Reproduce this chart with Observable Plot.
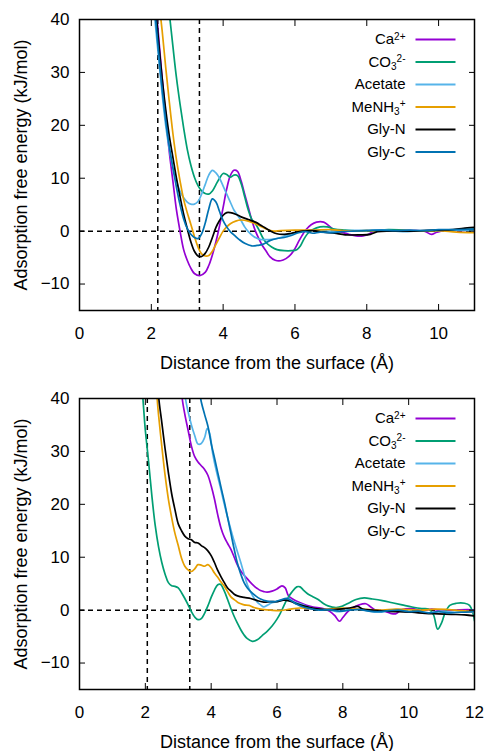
<!DOCTYPE html>
<html><head><meta charset="utf-8">
<script src="https://cdn.jsdelivr.net/npm/d3@7"></script>
<script src="https://cdn.jsdelivr.net/npm/@observablehq/plot@0.6"></script>
<style>body{margin:0;background:#fff;} #chart svg{display:block;}</style>
</head><body><div id="chart"></div>
<script>
const seriesNames = ["Ca²⁺", "CO₃²⁻", "Acetate", "MeNH₃⁺", "Gly-N", "Gly-C"];
const seriesColors = ["#9400d3", "#009e73", "#56b4e9", "#e69f00", "#000000", "#0072b2"];
const xTicksTop = [0, 2, 4, 6, 8, 10];
const xTicksBottom = [0, 2, 4, 6, 8, 10, 12];
const yTicks = [-10, 0, 10, 20, 30, 40];
const dashXTop = [2.18, 3.34];
const dashXBottom = [2.06, 3.35];
const xLabel = "Distance from the surface (Å)";
const yLabel = "Adsorption free energy (kJ/mol)";

// ---- top panel ----
const topCa = [[2.1,44],[2.2,37],[2.3,29],[2.4,22],[2.5,15],[2.6,9.5],[2.7,4],[2.8,0],[2.9,-3.5],[3.0,-5.5],[3.1,-7],[3.2,-8],[3.35,-8.4],[3.5,-7.8],[3.6,-6.5],[3.7,-4.5],[3.8,-2],[3.9,1],[4.0,4.5],[4.1,8],[4.2,10.5],[4.3,11.5],[4.4,11.3],[4.5,9.5],[4.6,7],[4.7,4.5],[4.8,2],[4.9,0],[5.0,-1.5],[5.1,-2.8],[5.2,-3.8],[5.3,-4.8],[5.45,-5.5],[5.6,-5.6],[5.75,-5.2],[5.9,-4.3],[6.0,-3.3],[6.1,-2],[6.2,-0.8],[6.3,0.2],[6.45,1.2],[6.6,1.7],[6.8,1.7],[6.95,1],[7.1,0.2],[7.3,-0.2],[7.5,-0.6],[7.7,-0.9],[7.9,-0.9],[8.05,-0.6],[8.2,0],[8.5,0.2],[8.8,0.1],[9.2,0.1],[9.6,0],[9.8,-0.6],[9.95,-0.2],[10.2,0.2],[10.6,0.1],[11,0.3]];
const topCO3 = [[2.45,44],[2.52,40],[2.6,35],[2.7,29],[2.8,24],[2.9,19.5],[3.0,15.5],[3.1,12.5],[3.2,10.2],[3.3,8.6],[3.4,7.6],[3.5,7.1],[3.6,7.0],[3.7,7.6],[3.8,8.8],[3.9,10],[4.0,10.9],[4.1,10.7],[4.2,10.2],[4.3,10.6],[4.4,10.5],[4.5,9],[4.6,6.5],[4.7,4],[4.8,2.2],[4.9,1.4],[5.0,0.2],[5.1,-1.2],[5.2,-2.2],[5.35,-3],[5.5,-3.5],[5.7,-3.7],[5.9,-3.7],[6.05,-3.5],[6.15,-2.8],[6.25,-1.5],[6.35,-0.5],[6.5,0.3],[6.7,0.8],[6.9,0.8],[7.1,0.4],[7.4,0.2],[7.8,0],[8.2,0.1],[8.6,0.3],[9.0,0.2],[9.5,0],[10,0.1],[10.5,0.2],[11,0.4]];
const topAcetate = [[2.05,44],[2.1,40],[2.2,33],[2.3,26],[2.4,20],[2.5,15.5],[2.6,12],[2.7,9.5],[2.8,7.5],[2.9,6.3],[3.0,5.5],[3.1,5.1],[3.2,5.1],[3.3,5.6],[3.4,7],[3.5,8.8],[3.6,10.6],[3.7,11.5],[3.8,11],[3.9,10],[4.0,8.5],[4.1,7],[4.2,5.5],[4.3,4],[4.4,3],[4.5,2],[4.6,0.8],[4.7,-0.1],[4.85,-1],[5.0,-1.5],[5.2,-1.6],[5.4,-1.5],[5.6,-1.2],[5.8,-0.7],[6.0,-0.3],[6.3,0.1],[6.6,0.2],[7.0,0],[7.5,0.1],[8,0.2],[8.5,0.2],[9,-0.1],[9.5,0.1],[10,0.2],[10.5,0.2],[11,0.1]];
const topMeNH3 = [[2.2,44],[2.3,38],[2.4,31],[2.5,24.5],[2.6,18.5],[2.7,13.5],[2.8,9.5],[2.9,6],[3.0,3.5],[3.1,1.3],[3.2,-1],[3.3,-3],[3.4,-4.3],[3.5,-4.7],[3.6,-4.6],[3.7,-3.8],[3.8,-2.5],[3.9,-1.2],[4.0,0],[4.1,0.8],[4.2,1.4],[4.35,1.9],[4.5,2.1],[4.7,1.9],[4.9,1.4],[5.05,0.9],[5.2,0.4],[5.4,0],[5.6,0.1],[6.0,0.2],[6.5,0.2],[7.0,0.3],[7.5,0],[8,0.1],[8.5,0],[9,0.1],[9.5,0],[10,0.1],[10.5,-0.2],[11,-0.3]];
const topGlyN = [[2.1,43],[2.15,40],[2.2,36],[2.3,29],[2.4,23],[2.5,18],[2.6,14],[2.7,10],[2.8,6.5],[2.9,3.2],[3.0,0.5],[3.1,-2],[3.2,-3.8],[3.3,-4.7],[3.4,-4.8],[3.5,-4.2],[3.6,-3],[3.7,-1.2],[3.8,0.7],[3.9,2],[4.0,3],[4.1,3.5],[4.2,3.5],[4.35,3.2],[4.5,2.7],[4.7,2.2],[4.9,1.7],[5.1,0.9],[5.3,0.1],[5.5,-0.5],[5.7,-0.6],[5.9,-0.4],[6.2,0],[6.5,0.1],[6.8,-0.2],[7.1,-0.4],[7.4,-0.7],[7.8,-0.7],[8.1,-0.6],[8.3,-0.1],[8.7,0],[9.2,0],[9.6,0.1],[10,0.2],[10.4,0.3],[10.8,0.6],[11,0.7]];
const topGlyC = [[2.08,43],[2.12,40],[2.2,34],[2.3,27],[2.4,21],[2.5,16],[2.6,12],[2.7,8.3],[2.8,5],[2.9,2.3],[3.0,0.5],[3.1,-0.6],[3.2,-1.2],[3.3,-1.4],[3.4,-0.5],[3.5,1.5],[3.6,4.2],[3.7,6.1],[3.8,5.5],[3.9,3.7],[4.0,2],[4.1,0.8],[4.2,-0.1],[4.3,-0.7],[4.45,-1.6],[4.6,-2.3],[4.8,-2.8],[4.95,-2.7],[5.1,-2.5],[5.3,-1.8],[5.5,-1.4],[5.7,-1.2],[5.9,-0.8],[6.1,-0.3],[6.3,-0.1],[6.5,-0.4],[6.7,-0.2],[7.0,-0.3],[7.3,-0.1],[7.6,0],[8,0.1],[8.4,0.2],[8.8,0.1],[9.2,0.2],[9.6,0.1],[10,0.3],[10.5,0.3],[11,0.4]];

// ---- bottom panel ----
const botCa = [[3.07,44],[3.12,40],[3.2,37],[3.3,34],[3.4,31],[3.5,29],[3.6,28],[3.7,27.3],[3.8,26.6],[3.9,25.5],[4.0,23.5],[4.1,21],[4.2,18],[4.3,15.5],[4.4,13.8],[4.5,12.6],[4.6,11.5],[4.7,10],[4.8,8.5],[4.9,7.4],[5.0,6.6],[5.1,5.9],[5.2,5.2],[5.3,4.6],[5.4,4.1],[5.5,3.7],[5.6,3.5],[5.7,3.4],[5.85,3.6],[6.0,4],[6.15,4.6],[6.25,4.2],[6.35,2.7],[6.5,2],[6.7,1.4],[6.9,0.9],[7.1,0.6],[7.4,0.3],[7.6,-0.2],[7.75,-1],[7.9,-2.1],[8.0,-1.4],[8.15,-0.3],[8.3,0.4],[8.5,1],[8.7,1.2],[8.85,0.6],[9.0,0],[9.2,-0.1],[9.45,-0.6],[9.6,-0.7],[9.8,0.1],[10.1,0.3],[10.4,-0.1],[10.7,0.2],[11.0,-0.1],[11.4,0],[11.8,0.1],[12,0]];
const botCO3 = [[1.88,44],[1.95,38],[2.0,34],[2.1,28],[2.2,21.5],[2.3,16],[2.4,12],[2.5,9],[2.6,6.8],[2.7,5.2],[2.8,4.6],[2.9,4.5],[3.0,4.2],[3.1,3.3],[3.2,2.2],[3.3,1],[3.4,-0.3],[3.5,-1.3],[3.6,-1.8],[3.7,-1.6],[3.8,-0.6],[3.9,0.8],[4.0,2.4],[4.1,3.8],[4.2,4.8],[4.28,4.9],[4.4,3.6],[4.5,2],[4.6,0.3],[4.7,-1.2],[4.8,-2.5],[4.9,-3.7],[5.0,-4.7],[5.1,-5.4],[5.25,-5.9],[5.4,-5.6],[5.55,-4.8],[5.7,-4],[5.85,-3],[6.0,-1.7],[6.1,-0.6],[6.2,0.7],[6.3,2],[6.45,3.4],[6.6,4.4],[6.7,4.4],[6.8,3.8],[6.95,3],[7.1,2.5],[7.25,2],[7.4,1.3],[7.55,0.8],[7.8,0.5],[8.0,0.8],[8.2,1.4],[8.4,2],[8.65,2.3],[8.9,2.1],[9.2,1.8],[9.5,1.4],[9.8,1],[10.1,0.6],[10.4,0.3],[10.6,0.2],[10.75,-0.8],[10.88,-3.6],[11.0,-2.4],[11.1,-0.6],[11.25,0.9],[11.45,1.3],[11.7,1.3],[11.85,0.9],[11.95,-0.5],[12,-2]];
const botAcetate = [[3.18,44],[3.22,40],[3.3,37.5],[3.4,35],[3.5,33],[3.6,31.4],[3.7,31.5],[3.8,32.6],[3.88,34.3],[3.95,33.5],[4.05,29.5],[4.15,26.5],[4.3,22.7],[4.4,20],[4.5,17.5],[4.6,15.2],[4.7,13],[4.8,11],[4.9,9],[5.0,6.8],[5.1,4.8],[5.2,3.4],[5.3,2.3],[5.4,1.5],[5.5,1.0],[5.6,0.6],[5.7,0.9],[5.85,1.4],[6.0,1.6],[6.2,2],[6.35,2.2],[6.5,1.6],[6.7,1.2],[6.9,0.7],[7.1,0.3],[7.3,0.2],[7.6,0],[7.9,-0.3],[8.2,0.1],[8.5,0.2],[8.8,-0.2],[9.1,-0.4],[9.4,-0.1],[9.7,0.1],[10.0,-0.2],[10.3,-0.3],[10.6,-0.5],[11.0,-0.2],[11.4,-0.4],[11.8,-0.3],[12,-0.5]];
const botMeNH3 = [[2.33,44],[2.36,40],[2.4,37],[2.5,31],[2.6,25.5],[2.7,21],[2.8,17.5],[2.9,14.5],[3.0,12.2],[3.1,9.8],[3.2,8.3],[3.3,7.6],[3.4,7.3],[3.5,7.8],[3.6,8.6],[3.7,8.5],[3.8,8.3],[3.9,8.6],[4.0,8],[4.1,7],[4.2,6.2],[4.3,5.3],[4.4,4.5],[4.5,3.5],[4.6,2.5],[4.7,2],[4.8,1.5],[4.9,1.2],[5.0,1],[5.15,0.9],[5.3,0.5],[5.5,0.2],[5.8,0],[6.1,-0.1],[6.4,0.2],[6.7,0.4],[7.0,0.3],[7.3,0.1],[7.6,0.2],[8.0,0.4],[8.4,0.2],[8.8,0.1],[9.2,0],[9.6,0.2],[10,0.1],[10.4,0],[10.8,0.2],[11.2,0.1],[11.6,-0.1],[12,-0.3]];
const botGlyN = [[2.38,44],[2.41,40],[2.5,35.5],[2.6,30.5],[2.7,26],[2.8,22],[2.9,19],[3.0,16.3],[3.1,15],[3.2,14],[3.3,13.5],[3.4,13.3],[3.5,12.8],[3.6,12.7],[3.7,12.2],[3.8,11.8],[3.9,11.2],[4.0,10.3],[4.1,9],[4.2,7.5],[4.3,6.3],[4.4,5.2],[4.5,4.2],[4.6,3.6],[4.7,3],[4.8,2.7],[5.0,2.4],[5.2,2.2],[5.4,1.8],[5.6,1.5],[5.8,1.6],[6.0,1.6],[6.2,1.9],[6.4,1.7],[6.6,1.2],[6.8,0.8],[7.0,0.5],[7.3,0.2],[7.6,0.1],[7.9,0.2],[8.2,0.4],[8.45,0.7],[8.6,0.2],[8.9,0],[9.3,-0.2],[9.7,-0.3],[10.1,-0.4],[10.5,-0.6],[10.9,-0.7],[11.3,-0.8],[11.7,-0.9],[12,-1.1]];
const botGlyC = [[3.63,44],[3.68,40],[3.8,37],[3.9,34.8],[4.0,31.5],[4.1,28.8],[4.2,26],[4.3,23.2],[4.4,20.5],[4.5,17.5],[4.6,14.5],[4.7,11.5],[4.8,8.8],[4.9,6.8],[5.0,5.2],[5.1,4.2],[5.2,3.5],[5.35,2.7],[5.5,2.1],[5.7,1.7],[5.9,1.6],[6.1,1.9],[6.3,2.2],[6.45,1.7],[6.6,1.1],[6.8,0.6],[7.0,0.3],[7.3,0],[7.6,0.1],[7.9,-0.2],[8.2,0],[8.5,0.1],[8.8,-0.2],[9.1,-0.3],[9.4,-0.1],[9.7,0],[10,-0.3],[10.3,-0.2],[10.6,-0.5],[10.9,-0.3],[11.2,-0.5],[11.6,-0.4],[12,-0.3]];

// legend label pieces: [base, subscript, superscript]
const legendPieces = {
  "Ca²⁺": ["Ca", "", "2+"],
  "CO₃²⁻": ["CO", "3", "2-"],
  "MeNH₃⁺": ["MeNH", "3", "+"]
};

const lineSymbol = {draw(context, size) { const r = Math.sqrt(size / Math.PI); context.moveTo(-r, 0); context.lineTo(r, 0); }};

function panel(seriesData, xMax, xTicks, dashX, height, marginBottom) {
  const rows = seriesData.flatMap((pts, i) => pts.map(([x, y]) => ({series: seriesNames[i], x, y})));
  const marks = [
    Plot.ruleY([0], {stroke: "black", strokeDasharray: "5,4", strokeWidth: 1.5}),
    Plot.ruleX(dashX, {stroke: "black", strokeDasharray: "5,4", strokeWidth: 1.5}),
    ...seriesNames.map((name, i) => Plot.line(rows.filter(r => r.series === name), {x: "x", y: "y", stroke: seriesColors[i], strokeWidth: 1.7, curve: "catmull-rom", clip: true})),
    Plot.frame({stroke: "black", strokeWidth: 1.5}),
    Plot.axisX(xTicks, {anchor: "bottom", tickSize: -6, tickPadding: 22, label: null, fontSize: 17}),
    Plot.axisX(xTicks, {anchor: "top", tickSize: -6, tickFormat: () => "", label: null}),
    Plot.axisY(yTicks, {anchor: "left", tickSize: -6, tickPadding: 16, label: null, fontSize: 17}),
    Plot.axisY(yTicks, {anchor: "right", tickSize: -6, tickFormat: () => "", label: null}),
    Plot.text([xLabel], {frameAnchor: "bottom", dy: 53, text: d => d, lineAnchor: "middle", fontSize: 18, fill: "black"}),
    Plot.text([yLabel], {frameAnchor: "left", dx: -58, rotate: -90, text: d => d, lineAnchor: "middle", textAnchor: "middle", fontSize: 18, fill: "black"}),
    ...seriesNames.flatMap((name, i) => [
      Plot.text([name], {frameAnchor: "top-right", dx: -69, dy: 20 + 22.5 * i, text: d => d, textAnchor: "end", lineAnchor: "middle", fontSize: 15, fill: "black"}),
      Plot.dot([name], {frameAnchor: "top-right", dx: -39, dy: 20 + 22.5 * i, symbol: lineSymbol, r: 20, stroke: seriesColors[i], strokeWidth: 2, fill: "none"})
    ])
  ];
  const svg = Plot.plot({
    width: 489, height, marginLeft: 79, marginRight: 15, marginTop: 19, marginBottom,
    x: {domain: [0, xMax]}, y: {domain: [-15, 40]},
    style: {fontFamily: "'Liberation Sans', Arial, sans-serif", fontSize: "16px", color: "black", background: "white"},
    marks
  });
  // typeset chemical sub/superscripts with tspans
  d3.select(svg).selectAll("text").each(function() {
    const p = legendPieces[this.textContent];
    if (!p) return;
    const [base, sub, sup] = p;
    const el = d3.select(this);
    el.text(base);
    if (sub) el.append("tspan").attr("dy", "0.3em").attr("font-size", 10).text(sub);
    el.append("tspan").attr("dy", sub ? "-0.8em" : "-0.45em").attr("font-size", 10).text(sup);
  });
  return svg;
}

const chart = document.getElementById("chart");
chart.append(panel([topCa, topCO3, topAcetate, topMeNH3, topGlyN, topGlyC], 11, xTicksTop, dashXTop, 379, 69));
chart.append(panel([botCa, botCO3, botAcetate, botMeNH3, botGlyN, botGlyC], 12, xTicksBottom, dashXBottom, 372, 62));
</script>
</body></html>
